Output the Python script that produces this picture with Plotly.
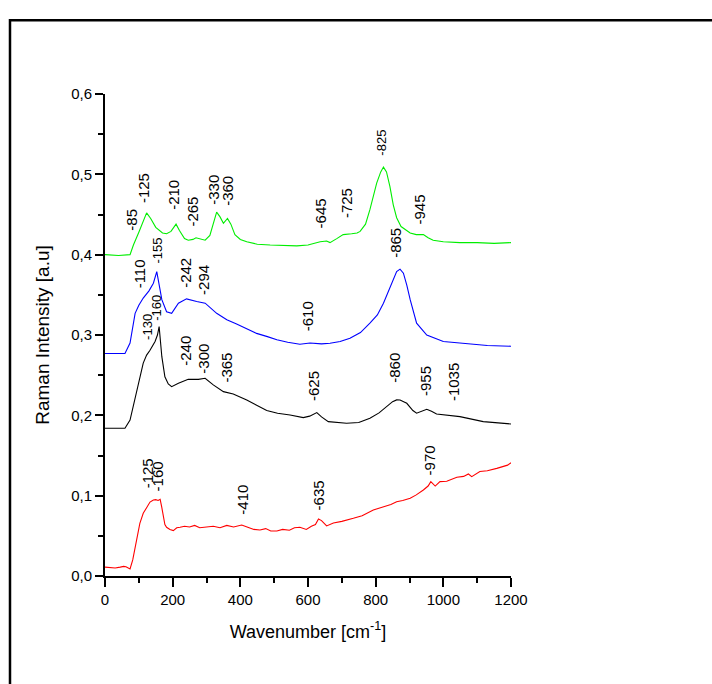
import plotly.graph_objects as go

# ---------------- data ----------------
green_x = [0, 40, 74, 84, 100, 115, 123, 135, 150, 170, 182, 195, 205, 210, 220, 235, 246, 260, 269, 280,
           296, 310, 322, 330, 340, 350, 362, 372, 384, 400, 419, 450, 488, 530, 567, 600, 636, 655, 665, 685,
           704, 729, 745, 754, 770, 783, 795, 803, 815, 823, 832, 842, 852, 862, 875, 890, 902, 920, 941, 955,
           970, 1000, 1049, 1100, 1150, 1200]
green_y = [0.400, 0.399, 0.400, 0.412, 0.428, 0.445, 0.452, 0.445, 0.434, 0.427, 0.426, 0.429, 0.436, 0.438, 0.430, 0.420, 0.418, 0.419, 0.421, 0.420,
           0.418, 0.424, 0.440, 0.453, 0.447, 0.439, 0.445, 0.438, 0.425, 0.419, 0.416, 0.413, 0.412, 0.411, 0.411, 0.412, 0.416, 0.417, 0.415, 0.420,
           0.425, 0.426, 0.427, 0.429, 0.438, 0.456, 0.475, 0.489, 0.503, 0.509, 0.503, 0.485, 0.462, 0.446, 0.435, 0.430, 0.427, 0.425, 0.425, 0.421,
           0.418, 0.416, 0.415, 0.415, 0.414, 0.415]

blue_x = [0, 59, 74, 89, 100, 113, 130, 143, 153, 160, 168, 182, 197, 217, 241, 271, 296, 330, 360, 389,
          420, 448, 480, 508, 540, 576, 606, 640, 665, 695, 724, 755, 783, 805, 823, 845, 862, 872, 882, 892,
          902, 921, 951, 1000, 1069, 1130, 1200]
blue_y = [0.277, 0.277, 0.290, 0.327, 0.337, 0.346, 0.355, 0.3645, 0.379, 0.362, 0.344, 0.329, 0.327, 0.3396, 0.345, 0.3416, 0.3396, 0.327, 0.319, 0.3138,
          0.308, 0.302, 0.298, 0.294, 0.291, 0.2885, 0.290, 0.289, 0.2898, 0.292, 0.296, 0.303, 0.3147, 0.325, 0.3396, 0.362, 0.379, 0.382, 0.377, 0.362,
          0.344, 0.3147, 0.300, 0.292, 0.289, 0.287, 0.286]

black_x = [0, 59, 74, 84, 94, 104, 113, 123, 133, 148, 155, 160, 164, 168, 177, 187, 197, 217, 246, 276,
           296, 320, 350, 379, 419, 450, 478, 510, 547, 586, 605, 626, 640, 660, 714, 750, 783, 810, 833, 850,
           862, 872, 892, 910, 921, 936, 951, 965, 980, 1049, 1118, 1200]
black_y = [0.184, 0.184, 0.194, 0.212, 0.232, 0.250, 0.265, 0.275, 0.281, 0.292, 0.300, 0.3105, 0.295, 0.273, 0.248, 0.239, 0.2357, 0.240, 0.245, 0.2448,
           0.2461, 0.2379, 0.2295, 0.2266, 0.2192, 0.212, 0.2059, 0.2025, 0.2005, 0.1972, 0.199, 0.2034, 0.198, 0.1922, 0.1901, 0.191, 0.1964, 0.203, 0.2108, 0.217,
           0.2192, 0.219, 0.215, 0.206, 0.2026, 0.205, 0.2076, 0.205, 0.2017, 0.1984, 0.1922, 0.1893]

red_x = [0, 15, 30, 45, 55, 62, 70, 74, 82, 89, 96, 103, 113, 123, 133, 143, 150, 157, 163, 168,
         172, 177, 182, 192, 202, 212, 222, 235, 250, 265, 280, 301, 320, 340, 360, 380, 404, 420, 440, 458,
         475, 490, 508, 525, 545, 560, 576, 595, 610, 622, 631, 640, 655, 675, 700, 734, 760, 793, 820, 845,
         862, 880, 902, 920, 941, 955, 963, 970, 976, 990, 1010, 1040, 1060, 1074, 1084, 1108, 1130, 1158, 1175, 1190,
         1200]
red_y = [0.011, 0.0105, 0.010, 0.011, 0.012, 0.0115, 0.0095, 0.0087, 0.020, 0.0365, 0.052, 0.0656, 0.078, 0.0855, 0.092, 0.0946, 0.095, 0.094, 0.0955, 0.085,
         0.0739, 0.064, 0.0606, 0.058, 0.0565, 0.060, 0.0606, 0.062, 0.061, 0.063, 0.060, 0.0614, 0.062, 0.060, 0.063, 0.061, 0.0635, 0.061, 0.058, 0.0573,
         0.059, 0.056, 0.056, 0.058, 0.057, 0.060, 0.0606, 0.058, 0.062, 0.064, 0.071, 0.069, 0.0623, 0.066, 0.068, 0.0718, 0.075, 0.0822, 0.086, 0.089,
         0.0925, 0.094, 0.0968, 0.101, 0.107, 0.112, 0.1175, 0.114, 0.112, 0.1175, 0.118, 0.1229, 0.124, 0.127, 0.1237, 0.130, 0.131, 0.134, 0.136, 0.138,
         0.141]

series_names = ["50%", "20%", "5%", "0.5%"]
series_label_y = [0.422, 0.290, 0.194, 0.148]

# peak labels: text, x position (cm-1), y of label base, small font flag
peak_text = ["-85", "-125", "-210", "-265", "-330", "-360", "-645", "-725", "-825", "-945",
             "-110", "-155", "-242", "-294", "-610", "-865",
             "-130", "-160", "-240", "-300", "-365", "-625", "-860", "-955", "-1035",
             "-125", "-160", "-410", "-635", "-970"]
peak_x = [79, 116, 202, 259, 320, 360, 638, 714, 818, 931,
          103, 155, 236, 291, 601, 860,
          125, 153, 239, 291, 360, 618, 857, 949, 1032,
          125, 155, 407, 631, 959]
peak_y = [0.427, 0.462, 0.4537, 0.432, 0.460, 0.458, 0.430, 0.4425, 0.5205, 0.435,
          0.356, 0.387, 0.356, 0.348, 0.3026, 0.3935,
          0.2918, 0.315, 0.259, 0.250, 0.238, 0.2154, 0.238, 0.2217, 0.2154,
          0.107, 0.1034, 0.0735, 0.0797, 0.1233]
peak_small = [0, 0, 0, 0, 0, 0, 0, 0, 1, 0,
              0, 1, 0, 0, 0, 0,
              1, 1, 0, 0, 0, 0, 0, 0, 0,
              0, 0, 0, 0, 0]

y_tickvals = [0.0, 0.1, 0.2, 0.3, 0.4, 0.5, 0.6]
y_ticktext = ["0,0", "0,1", "0,2", "0,3", "0,4", "0,5", "0,6"]
x_tickvals = [0, 200, 400, 600, 800, 1000, 1200]

# ---------------- figure ----------------
FONT = "Liberation Sans, Arial, sans-serif"
fig = go.Figure()
colors = ["#00ee00", "#0000ff", "#000000", "#ff0000"]
for xs, ys, c, nm in zip([green_x, blue_x, black_x, red_x], [green_y, blue_y, black_y, red_y], colors, series_names):
    fig.add_trace(go.Scatter(x=xs, y=ys, mode="lines", line=dict(color=c, width=1.1), name=nm,
                             showlegend=False, hoverinfo="skip"))

for t, x, y, s in zip(peak_text, peak_x, peak_y, peak_small):
    fig.add_annotation(x=x, y=y, xref="x", yref="y", text=t, showarrow=False, textangle=-90,
                       xanchor="center", yanchor="bottom",
                       font=dict(family=FONT, size=13 if s else 15, color="black"))

for nm, y in zip(series_names, series_label_y):
    fig.add_annotation(x=1212, y=y, xref="x", yref="y", text=nm, showarrow=False,
                       xanchor="left", yanchor="middle",
                       font=dict(family=FONT, size=18, color="black"))

# outer frame
fig.add_shape(type="rect", xref="paper", yref="paper", x0=-0.234, x1=1.6, y0=-0.4, y1=1.153,
              line=dict(color="black", width=2.5), fillcolor="rgba(0,0,0,0)", layer="below")

fig.update_layout(
    width=712, height=684,
    margin=dict(l=105, r=201, t=94, b=108),
    paper_bgcolor="white", plot_bgcolor="white",
    font=dict(family=FONT, size=15, color="black"),
    xaxis=dict(range=[0, 1200], tickvals=x_tickvals, showline=True, linecolor="black", linewidth=2,
               ticks="outside", ticklen=9, tickwidth=1.5, tickcolor="black", showgrid=False, zeroline=False,
               minor=dict(dtick=100, ticks="outside", ticklen=5, tickwidth=1.5, tickcolor="black", showgrid=False),
               tickfont=dict(size=15),
               title=dict(text="Wavenumber [cm<sup>-1</sup>]", font=dict(size=18), standoff=18)),
    yaxis=dict(range=[0, 0.6], tickvals=y_tickvals, ticktext=y_ticktext, showline=True, linecolor="black",
               linewidth=2, ticks="outside", ticklen=8, tickwidth=1.5, tickcolor="black", showgrid=False,
               zeroline=False,
               minor=dict(dtick=0.05, ticks="outside", ticklen=5, tickwidth=1.5, tickcolor="black", showgrid=False),
               tickfont=dict(size=15),
               title=dict(text="Raman Intensity [a.u]", font=dict(size=19), standoff=16)),
)

fig.write_html("out.html")
